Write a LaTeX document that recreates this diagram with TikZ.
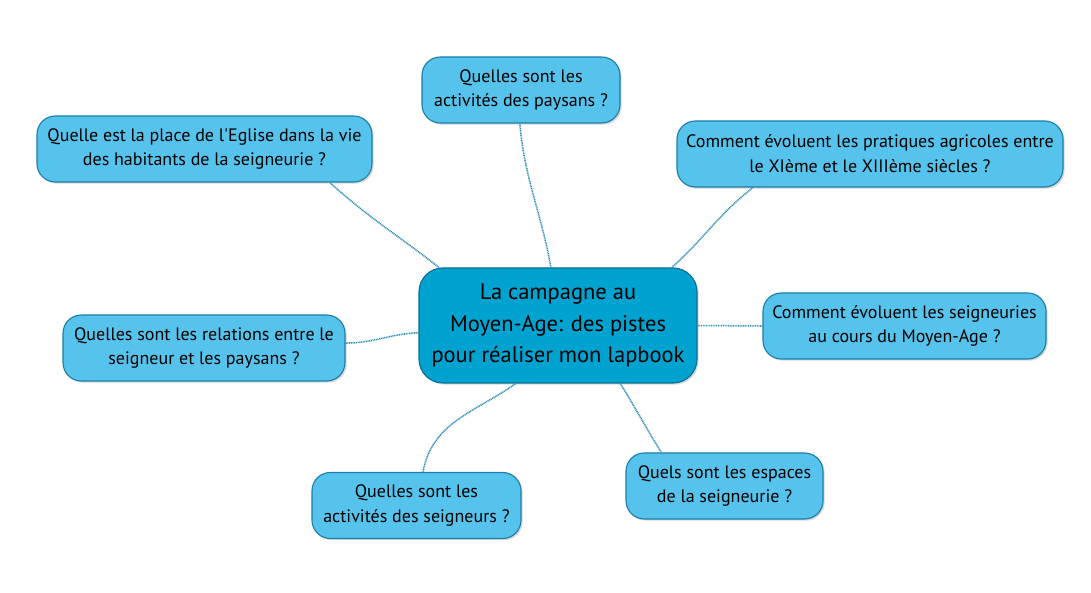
\documentclass[tikz,border=0pt]{standalone}
\usepackage{fontspec}
\setmainfont{PT Sans}
\usetikzlibrary{shadows}
\definecolor{mainfill}{HTML}{00A3D0}
\definecolor{mainline}{HTML}{0B6F94}
\definecolor{subfill}{HTML}{55C3EC}
\definecolor{subline}{HTML}{1E7FA6}
\definecolor{linkcol}{HTML}{2A8DB8}
\begin{document}
\begin{tikzpicture}[x=0.025cm, y=0.025cm,
  mainbox/.style={draw=mainline, fill=mainfill, line width=0.8pt, rounded corners=17pt,
    minimum width=278*0.025cm, minimum height=115*0.025cm, align=center,
    font=\fontsize{16}{22.4}\selectfont, drop shadow={shadow xshift=1.2pt, shadow yshift=-1.2pt, opacity=0.3}},
  subbox/.style={draw=subline, fill=subfill, line width=0.8pt, rounded corners=13pt,
    minimum height=66*0.025cm, align=center, inner xsep=0pt,
    font=\fontsize{12.8}{17.6}\selectfont, drop shadow={shadow xshift=1.2pt, shadow yshift=-1.2pt, opacity=0.3}},
  link/.style={draw=linkcol, line width=1.1pt, dash pattern=on 0.7pt off 0.5pt}]
\useasboundingbox (0,0) rectangle (1091,592);
\node[mainbox] (centre) at (558,266.5){La campagne au\\Moyen-Age: des pistes\\pour réaliser mon lapbook};
\node[subbox, minimum width=198*0.025cm] (paysans) at (521,502){Quelles sont les\\activités des paysans ?};
\node[subbox, minimum width=335*0.025cm] (eglise) at (204.5,443){Quelle est la place de l\textquotesingle Eglise dans la vie\\des habitants de la seigneurie ?};
\node[subbox, minimum width=386*0.025cm] (pratiques) at (870,438){Comment évoluent les pratiques agricoles entre\\le XIème et le XIIIème siècles ?};
\node[subbox, minimum width=283*0.025cm] (evolution) at (904.5,266){Comment évoluent les seigneuries\\au cours du Moyen-Age ?};
\node[subbox, minimum width=282*0.025cm] (relations) at (204,244){Quelles sont les relations entre le\\seigneur et les paysans ?};
\node[subbox, minimum width=209*0.025cm] (seigneurs) at (416.5,86.5){Quelles sont les\\activités des seigneurs ?};
\node[subbox, minimum width=197*0.025cm] (espaces) at (724.5,106){Quels sont les espaces\\de la seigneurie ?};
\draw[link](centre.97.9) to[out=100,in=275] (paysans.268);
\draw[link](centre.154.8) to[out=142,in=318] (eglise.345.5);
\draw[link](centre.27.8) to[out=42,in=218] (pratiques.196.3);
\draw[link](centre.0) -- (evolution.180);
\draw[link](centre.183.9) to[out=182,in=0] (relations.2.4);
\draw[link](centre.234.5) to[out=215,in=80] (seigneurs.79);
\draw[link](centre.317.2) to[out=302,in=122] (espaces.152.5);
\end{tikzpicture}
\end{document}
